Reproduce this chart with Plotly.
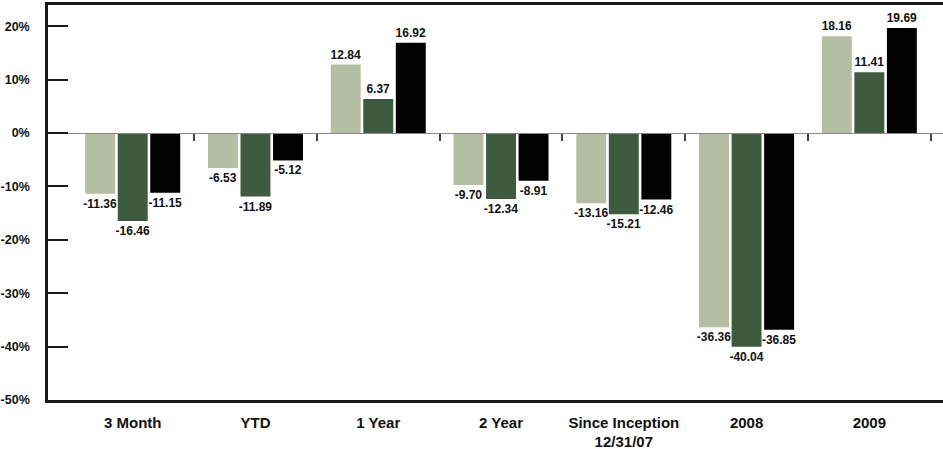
import plotly.graph_objects as go

categories = ["3 Month", "YTD", "1 Year", "2 Year", "Since Inception<br>12/31/07", "2008", "2009"]
series_a = [-11.36, -6.53, 12.84, -9.70, -13.16, -36.36, 18.16]
series_b = [-16.46, -11.89, 6.37, -12.34, -15.21, -40.04, 11.41]
series_c = [-11.15, -5.12, 16.92, -8.91, -12.46, -36.85, 19.69]
colors = ["#b5bea2", "#3e5b3f", "#010201"]
y_ticks = [20, 10, 0, -10, -20, -30, -40, -50]
y_tick_labels = ["20%", "10%", "0%", "-10%", "-20%", "-30%", "-40%", "-50%"]
boundaries = [0.5, 1.5, 2.5, 3.5, 4.5, 5.5, 6.5]

font_family = "Liberation Sans, Arial, sans-serif"
fig = go.Figure()
for name, vals, col in zip(["A", "B", "C"], [series_a, series_b, series_c], colors):
    fig.add_trace(go.Bar(
        x=categories, y=vals, name=name, marker=dict(color=col, line=dict(width=0)),
        text=[f"<b>{v:.2f}</b>" for v in vals], textposition="outside",
        textfont=dict(family=font_family, size=12, color="#111"),
        constraintext="none", cliponaxis=False,
    ))

# invisible trace to anchor the zero-line category tick axis
fig.add_trace(go.Scatter(x=[0], y=[0], xaxis="x2", mode="markers",
                         marker=dict(opacity=0), showlegend=False, hoverinfo="skip"))

ymin, ymax = -50, 24
zero_pos = (0 - ymin) / (ymax - ymin)
xr = [-0.69, 6.6]

fig.update_layout(
    width=943, height=449,
    margin=dict(l=48, r=0, t=5, b=49, autoexpand=False),
    paper_bgcolor="white", plot_bgcolor="white",
    barmode="group", bargap=0.205, bargroupgap=0.08,
    showlegend=False,
    font=dict(family=font_family, color="#111"),
    xaxis=dict(
        type="category", range=xr, showline=True, linecolor="#1a1a1a", linewidth=2.5,
        mirror=True, ticks="", showgrid=False, zeroline=False, automargin=False,
        tickvals=categories, ticktext=[f"<b>{c}</b>" for c in categories],
        tickfont=dict(family=font_family, size=15, color="#111"),
        ticklabelstandoff=7,
    ),
    xaxis2=dict(
        overlaying="x", anchor="free", position=zero_pos, range=xr, automargin=False,
        showline=True, linecolor="#888", linewidth=1.2,
        ticks="outside", ticklen=7, tickwidth=1.5, tickcolor="#444",
        tickvals=boundaries, showticklabels=False, showgrid=False, zeroline=False,
    ),
    yaxis=dict(
        range=[ymin, ymax], tickvals=y_ticks, ticktext=[f"<b>{t}</b>" for t in y_tick_labels],
        ticks="inside", ticklen=20, tickwidth=2, tickcolor="#1a1a1a",
        showline=True, linecolor="#1a1a1a", linewidth=2.5, mirror=False,
        showgrid=False, zeroline=False, automargin=False,
        tickfont=dict(family=font_family, size=12.5, color="#111"),
        ticklabelstandoff=13,
    ),
)

fig.write_html(
    "out.html",
    config={"displayModeBar": False},
    post_script="document.body.style.margin='0';document.body.style.padding='0';",
)
